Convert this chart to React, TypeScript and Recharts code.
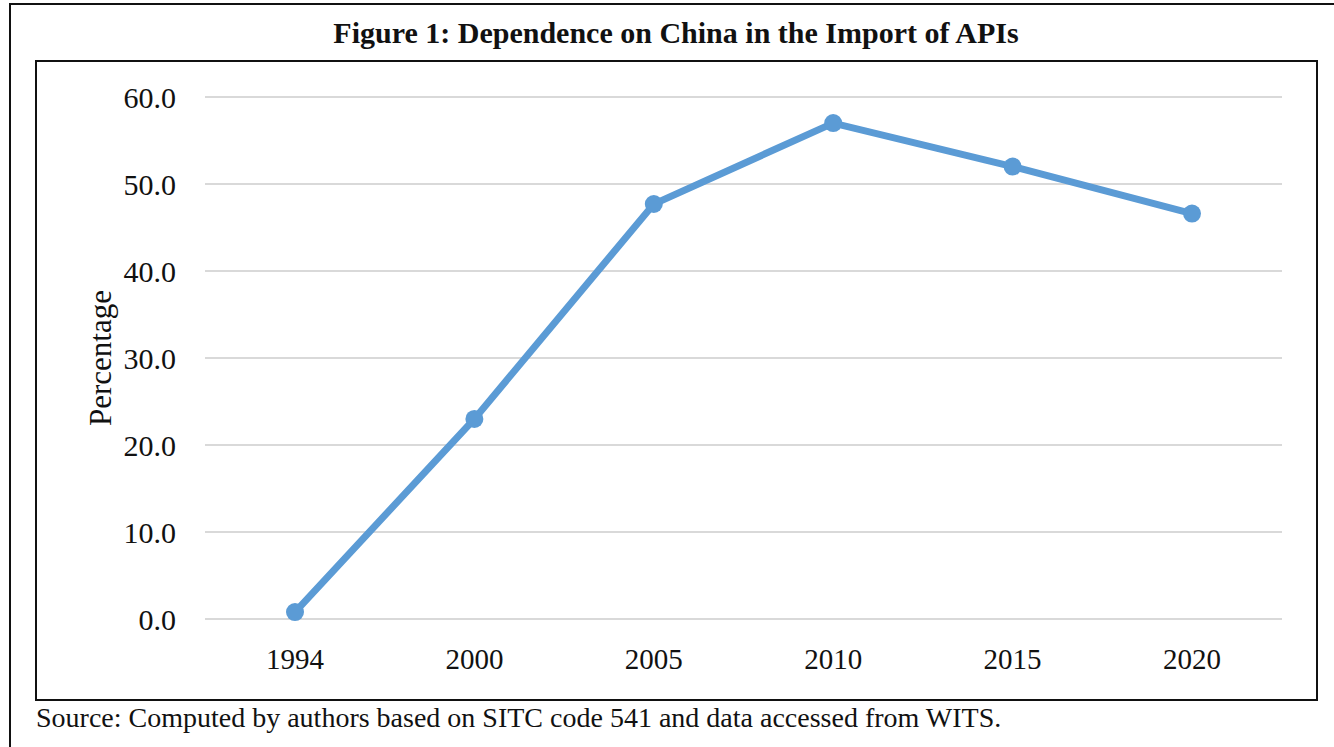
import React from 'react';
import { LineChart, Line, XAxis, YAxis, CartesianGrid } from 'recharts';

const years = ['1994', '2000', '2005', '2010', '2015', '2020'];
const shares = [0.8, 23.0, 47.7, 57.0, 52.0, 46.6];
const yTicks = [0, 10, 20, 30, 40, 50, 60];

const data = years.map((y, i) => ({ year: y, share: shares[i] }));

const serif = '"Liberation Serif", "DejaVu Serif", serif';

export default function App() {
  return (
    <div style={{ position: 'absolute', left: 0, top: 0, width: 1334, height: 747, overflow: 'hidden', background: '#fff', fontFamily: serif }}>
      {/* outer frame */}
      <div style={{ position: 'absolute', left: 9, top: 3, width: 1325, height: 2, background: '#111' }} />
      <div style={{ position: 'absolute', left: 9, top: 3, width: 2, height: 744, background: '#111' }} />
      {/* title */}
      <div style={{ position: 'absolute', left: 0, width: 1352, top: 13, textAlign: 'center', fontWeight: 'bold', fontSize: 30, color: '#111', lineHeight: '40px' }}>
        Figure 1: Dependence on China in the Import of APIs
      </div>
      {/* inner box */}
      <div style={{ position: 'absolute', left: 35, top: 60, width: 1279, height: 637, border: '2px solid #111' }} />
      <div style={{ position: 'absolute', left: 0, top: 0 }}>
        <LineChart width={1334} height={747} data={data} margin={{ top: 97, right: 52, bottom: 68, left: 125 }}>
          <CartesianGrid horizontal vertical={false} stroke="#d9d9d9" strokeWidth={2} />
          <XAxis dataKey="year" axisLine={false} tickLine={false} tickSize={0} tickMargin={29} height={60}
            padding={{ left: 90, right: 90 }}
            tick={{ fill: '#111', fontSize: 29, fontFamily: serif }} interval={0} />
          <YAxis domain={[0, 60]} ticks={yTicks} axisLine={false} tickLine={false} tickSize={0} tickMargin={29} width={80}
            tickFormatter={(v: number) => v.toFixed(1)} tick={{ fill: '#111', fontSize: 30, fontFamily: serif }} />
          <Line type="linear" dataKey="share" stroke="#5b9bd5" strokeWidth={7} isAnimationActive={false}
            dot={{ r: 9, fill: '#5b9bd5', stroke: '#5b9bd5', strokeWidth: 0 }} />
        </LineChart>
      </div>
      {/* y label */}
      <div style={{ position: 'absolute', left: 101, top: 358, transform: 'translate(-50%, -50%) rotate(-90deg)', fontSize: 31, color: '#111', whiteSpace: 'nowrap' }}>
        Percentage
      </div>
      {/* source */}
      <div style={{ position: 'absolute', left: 36, top: 701, fontSize: 28, lineHeight: '34px', color: '#111', whiteSpace: 'nowrap' }}>
        Source: Computed by authors based on SITC code 541 and data accessed from WITS.
      </div>
    </div>
  );
}
